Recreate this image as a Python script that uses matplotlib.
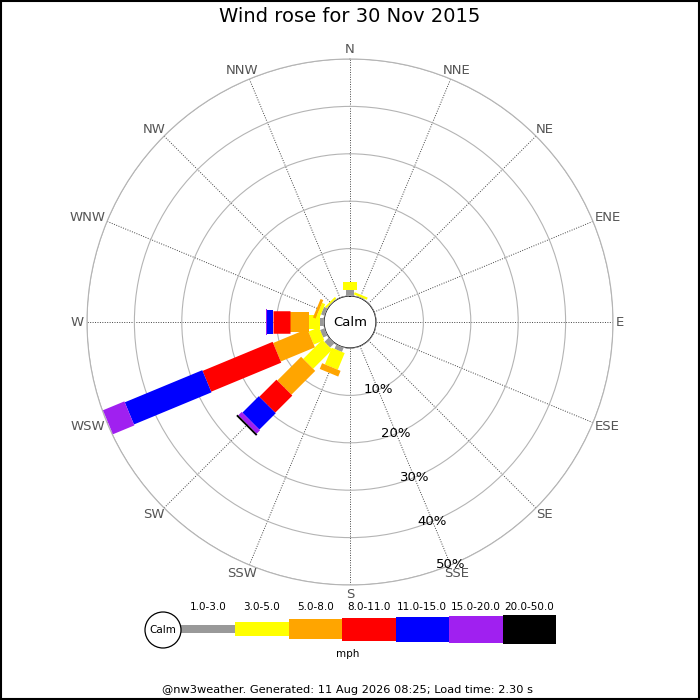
import numpy as np
import matplotlib
matplotlib.use('Agg')
import matplotlib.pyplot as plt
from matplotlib.patches import Circle, Rectangle

# ── Data ──────────────────────────────────────────────────────────────────────
DIRECTIONS = ['N', 'NNE', 'NE', 'ENE', 'E', 'ESE', 'SE', 'SSE',
              'S', 'SSW', 'SW', 'WSW', 'W', 'WNW', 'NW', 'NNW']
SPEED_BINS = ['1.0-3.0', '3.0-5.0', '5.0-8.0', '8.0-11.0',
              '11.0-15.0', '15.0-20.0', '20.0-50.0']
BIN_COLORS = ['#999999', '#ffff00', '#ffa500', '#ff0000',
              '#0000ff', '#a020f0', '#000000']

# percent of time per direction, one list per speed bin
pct_1_3 = [1.2, 0.2, 0, 0, 0, 0, 0, 0, 0, 1.0, 1.3, 1.0, 0.85, 0.8, 0.1, 0]
pct_3_5 = [1.8, 0.5, 0, 0, 0, 0, 0, 0, 0, 3.8, 5.7, 2.4, 2.3, 0.7, 0.4, 0]
pct_5_8 = [0, 0, 0, 0, 0, 0, 0, 0, 0, 1.3, 7.1, 7.8, 4.0, 0.6, 0, 0]
pct_8_11 = [0, 0, 0, 0, 0, 0, 0, 0, 0, 0, 5.1, 16.0, 3.7, 0, 0, 0]
pct_11_15 = [0, 0, 0, 0, 0, 0, 0, 0, 0, 0, 4.9, 17.7, 1.1, 0, 0, 0]
pct_15_20 = [0, 0, 0, 0, 0, 0, 0, 0, 0, 0, 1.0, 4.9, 0.3, 0, 0, 0]
pct_20_50 = [0, 0, 0, 0, 0, 0, 0, 0, 0, 0, 0.4, 0, 0, 0, 0, 0]

RINGS = [10, 20, 30, 40, 50]
TITLE = 'Wind rose for 30 Nov 2015'
FOOTER = '@nw3weather. Generated: 11 Aug 2026 08:25; Load time: 2.30 s'

# ── Layout (pixels on a 700x700 canvas) ───────────────────────────────────────
W_PX = 700
CX, CY = 350, 322          # rose centre
R_OUT = 263                # radius of the 50% ring
R_CALM = 26                # radius of the calm circle
R_LABEL = 266              # anchor radius of the compass labels
BAR_PX = [8, 14, 20, 22.5, 24, 26, 28]   # bar thickness per speed bin
LEG_PX = [8, 14, 20, 23, 25, 27, 29]
PT = 72 / 100              # points per pixel at dpi 100

fig = plt.figure(figsize=(7, 7), dpi=100)
fig.patch.set_facecolor('white')

# overlay axes in pixel units for legend / titles
ov = fig.add_axes([0, 0, 1, 1])
ov.set_xlim(0, W_PX)
ov.set_ylim(W_PX, 0)
ov.axis('off')
ov.patch.set_alpha(0)

# ── Polar rose ────────────────────────────────────────────────────────────────
ax = fig.add_axes([(CX - R_OUT) / W_PX, (W_PX - CY - R_OUT) / W_PX,
                   2 * R_OUT / W_PX, 2 * R_OUT / W_PX], projection='polar')
ax.set_theta_zero_location('N')
ax.set_theta_direction(-1)
ax.set_ylim(0, 50)
origin = -R_CALM * 50 / (R_OUT - R_CALM)
ax.set_rorigin(origin)
ax.patch.set_alpha(0)

def px_to_r(px):
    return px / R_OUT * (50 - origin) + origin

thetas = np.radians(np.arange(16) * 22.5)
ax.set_xticks(thetas)
ax.set_xticklabels([])
ax.set_yticks(RINGS)
ax.set_yticklabels([])
ax.xaxis.grid(True, color='#444444', linestyle=(0, (1, 1.5)), linewidth=0.7)
ax.yaxis.grid(True, color='#b4b4b4', linestyle='-', linewidth=0.8)
ax.tick_params(length=0)
for name, sp in ax.spines.items():
    if name == 'polar':
        sp.set_color('#b4b4b4')
        sp.set_linewidth(0.8)
    else:
        sp.set_visible(False)

# calm circle
circ = np.linspace(0, 2 * np.pi, 361)
ax.plot(circ, np.zeros_like(circ), color='#aaaaaa', lw=0.9, zorder=5)
ax.text(0, origin, 'Calm', ha='center', va='center', fontsize=9.5,
        color='black', zorder=6)

# stacked bars drawn as thick butt-capped lines (constant pixel width)
bins = [pct_1_3, pct_3_5, pct_5_8, pct_8_11, pct_11_15, pct_15_20, pct_20_50]
cum = np.zeros(16)
for vals, col, wpx in zip(bins, BIN_COLORS, BAR_PX):
    vals = np.array(vals, dtype=float)
    for th, r0, v in zip(thetas, cum, vals):
        if v <= 0:
            continue
        ax.plot([th, th], [r0, r0 + v], color=col, lw=wpx * PT,
                solid_capstyle='butt', zorder=4)
    cum = cum + vals

# direction labels, pushed outward by half their box
dir_texts = []
for th, name in zip(thetas, DIRECTIONS):
    t = ax.annotate(name, (th, px_to_r(R_LABEL)), xytext=(0, 0),
                    textcoords='offset pixels', ha='center', va='center',
                    fontsize=9.5, color='#555555', annotation_clip=False)
    dir_texts.append((th, t))

# ring labels along SSE
for r in RINGS:
    ax.text(np.radians(157.5), r, f'{r}%', ha='center', va='center',
            fontsize=9.5, color='black', zorder=6, clip_on=False)

# ── Legend ────────────────────────────────────────────────────────────────────
LEG_X0, LEG_Y = 181, 629
xs = [LEG_X0]
for i in range(len(SPEED_BINS)):
    xs.append(xs[-1] + (235 - LEG_X0 if i == 0 else (556 - 235) / 6))
for i, (lab, col, h) in enumerate(zip(SPEED_BINS, BIN_COLORS, LEG_PX)):
    ov.add_patch(Rectangle((xs[i], LEG_Y - h / 2), xs[i + 1] - xs[i], h,
                           facecolor=col, edgecolor='none'))
    ov.text((xs[i] + xs[i + 1]) / 2, 607, lab, ha='center', va='center',
            fontsize=7.5, color='black')
ov.add_patch(Circle((163, 630), 18, facecolor='white', edgecolor='black',
                    lw=0.9, zorder=3))
ov.text(163, 630, 'Calm', ha='center', va='center', fontsize=7.5, zorder=4)
ov.text(348, 654, 'mph', ha='center', va='center', fontsize=7.5)

# ── Titles / frame ────────────────────────────────────────────────────────────
ov.text(350, 17, TITLE, ha='center', va='center', fontsize=14)
ov.text(348, 690, FOOTER, ha='center', va='center', fontsize=8.2)
ov.add_patch(Rectangle((0.5, 0.5), W_PX - 1.5, W_PX - 1.5, facecolor='none',
                       edgecolor='black', lw=1.5, clip_on=False))

# shift compass labels so their nearest edge sits on the anchor radius
fig.canvas.draw()
for th, t in dir_texts:
    bb = t.get_window_extent()
    t.xyann = (bb.width / 2 * np.sin(th), bb.height / 2 * np.cos(th))

fig.savefig('out.png', dpi=100, facecolor='white')
